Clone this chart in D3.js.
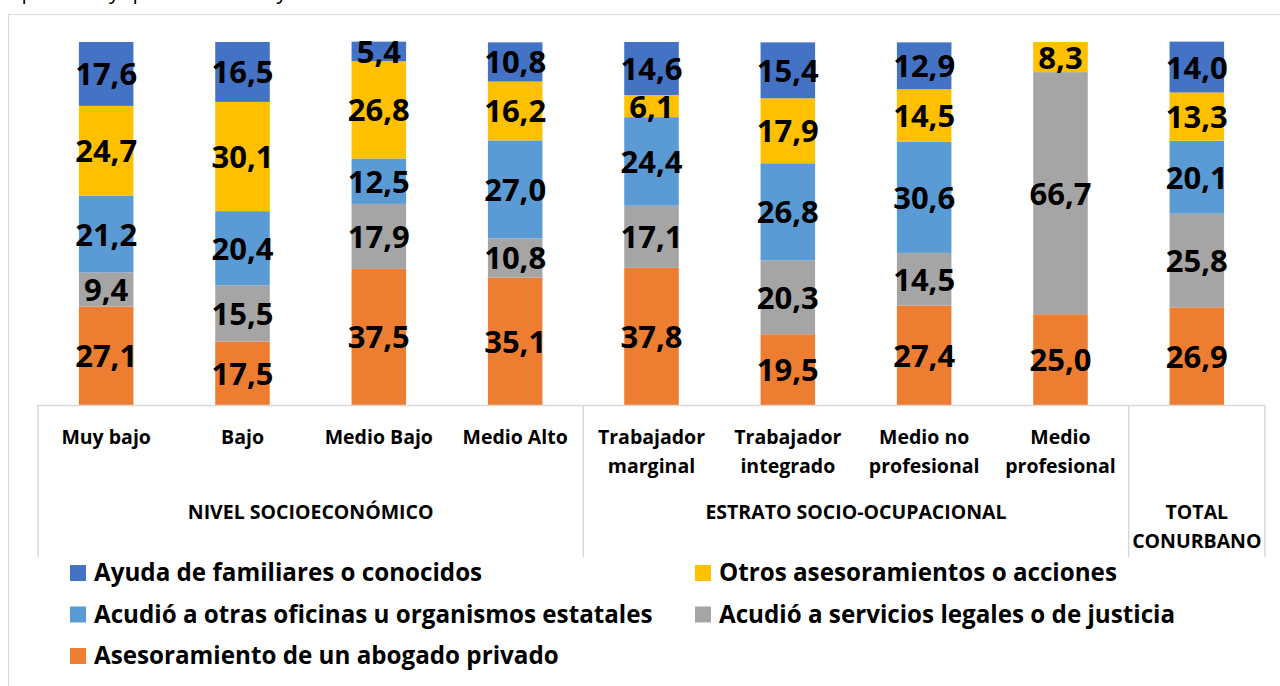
<!DOCTYPE html>
<html>
<head>
<meta charset="utf-8">
<script src="https://cdn.jsdelivr.net/npm/d3@7"></script>
<style>
  body { margin: 0; background: #fff; }
  svg { display: block; font-family: "Open Sans", Lato, sans-serif; }
  .val { font-weight: 700; font-size: 31px; fill: #000; }
  .cat { font-weight: 700; font-size: 19.5px; fill: #000; }
  .leg { font-weight: 700; font-size: 24.2px; fill: #000; }
</style>
</head>
<body>
<div class="chart"></div>
<script>
let categories = ["Muy bajo", "Bajo", "Medio Bajo", "Medio Alto", "Trabajador marginal",
  "Trabajador integrado", "Medio no profesional", "Medio profesional", "TOTAL"];
let catLines = [["Muy bajo"], ["Bajo"], ["Medio Bajo"], ["Medio Alto"], ["Trabajador", "marginal"],
  ["Trabajador", "integrado"], ["Medio no", "profesional"], ["Medio", "profesional"], []];
let groups = ["NIVEL SOCIOECONÓMICO", "ESTRATO SOCIO-OCUPACIONAL", "TOTAL CONURBANO"];
let groupSpans = [[0, 3], [4, 7], [8, 8]];

// stack order from bottom to top
let seriesNames = [
  "Asesoramiento de un abogado privado",
  "Acudió a servicios legales o de justicia",
  "Acudió a otras oficinas u organismos estatales",
  "Otros asesoramientos o acciones",
  "Ayuda de familiares o conocidos"
];
let abogado   = [27.1, 17.5, 37.5, 35.1, 37.8, 19.5, 27.4, 25.0, 26.9];
let legales   = [9.4, 15.5, 17.9, 10.8, 17.1, 20.3, 14.5, 66.7, 25.8];
let oficinas  = [21.2, 20.4, 12.5, 27.0, 24.4, 26.8, 30.6, 0, 20.1];
let otros     = [24.7, 30.1, 26.8, 16.2, 6.1, 17.9, 14.5, 8.3, 13.3];
let familia   = [17.6, 16.5, 5.4, 10.8, 14.6, 15.4, 12.9, 0, 14.0];
let colors = ["#ED7D31", "#A5A5A5", "#5B9BD5", "#FFC000", "#4472C4"];

let width = 1280;
let height = 686;

let svg = d3.select(".chart")
  .append("svg")
  .attr("width", width)
  .attr("height", height);

// cut-off caption above the chart
svg.append("text")
  .attr("x", 330)
  .attr("y", -1)
  .attr("text-anchor", "end")
  .style("font-size", "21px")
  .text("públicos y que buscaron ayuda.");

// chart frame
svg.append("rect")
  .attr("x", 8.5)
  .attr("y", 14.5)
  .attr("width", 1300)
  .attr("height", 700)
  .attr("fill", "none")
  .attr("stroke", "#d9d9d9");

let x = d3.scaleBand()
  .domain(categories)
  .range([38, 1265])
  .paddingInner(0.6)
  .paddingOuter(0.3);

let y = d3.scaleLinear()
  .domain([0, 100])
  .range([405, 42]);

let table = categories.map(function(c, i) {
  return { cat: c, s0: abogado[i], s1: legales[i], s2: oficinas[i], s3: otros[i], s4: familia[i] };
});
let stack = d3.stack().keys(["s0", "s1", "s2", "s3", "s4"]);
let layers = stack(table);

let layer = svg.selectAll(".layer")
  .data(layers)
  .enter()
  .append("g")
  .attr("class", "layer")
  .attr("fill", function(d, i) { return colors[i]; });

layer.selectAll("rect")
  .data(function(d) { return d.filter(function(p) { return p[1] - p[0] > 0; }); })
  .enter()
  .append("rect")
  .attr("x", function(d) { return x(d.data.cat); })
  .attr("width", x.bandwidth())
  .attr("y", function(d) { return y(d[1]); })
  .attr("height", function(d) { return y(d[0]) - y(d[1]); });

// value labels
layers.forEach(function(l) {
  svg.append("g")
    .selectAll("text")
    .data(l.filter(function(d) { return d[1] - d[0] > 0; }))
    .enter()
    .append("text")
    .attr("class", "val")
    .attr("text-anchor", "middle")
    .attr("x", function(d) { return x(d.data.cat) + x.bandwidth() / 2; })
    .attr("y", function(d) { return (y(d[0]) + y(d[1])) / 2 + 11.5; })
    .text(function(d) { return d3.format(".1f")(d[1] - d[0]).replace(".", ","); });
});

// category axis with group separators
let axisG = svg.append("g").attr("stroke", "#d9d9d9").attr("stroke-width", 1.5);
axisG.append("line")
  .attr("x1", x.range()[0]).attr("x2", x.range()[1])
  .attr("y1", 405.5).attr("y2", 405.5);

let sepX = [x.range()[0]].concat(groupSpans.map(function(s) {
  return x(categories[s[1]]) + x.bandwidth() / 2 + x.step() / 2;
}));
axisG.selectAll(".sep")
  .data(sepX)
  .enter()
  .append("line")
  .attr("x1", function(d) { return d; })
  .attr("x2", function(d) { return d; })
  .attr("y1", 405)
  .attr("y2", 557);

svg.append("g")
  .selectAll("text")
  .data(categories)
  .enter()
  .append("text")
  .attr("class", "cat")
  .attr("text-anchor", "middle")
  .attr("x", function(d) { return x(d) + x.bandwidth() / 2; })
  .attr("y", 444)
  .each(function(d, i) {
    let t = d3.select(this);
    catLines[i].forEach(function(line, j) {
      t.append("tspan")
        .attr("x", x(d) + x.bandwidth() / 2)
        .attr("dy", j == 0 ? 0 : 29)
        .text(line);
    });
  });

// group labels
svg.append("g")
  .selectAll("text")
  .data(groups)
  .enter()
  .append("text")
  .attr("class", "cat")
  .attr("text-anchor", "middle")
  .attr("y", 519)
  .each(function(d, i) {
    let cx = (sepX[i] + sepX[i + 1]) / 2;
    let t = d3.select(this);
    let words = i == 2 ? ["TOTAL", "CONURBANO"] : [d];
    words.forEach(function(w, j) {
      t.append("tspan").attr("x", cx).attr("dy", j == 0 ? 0 : 29).text(w);
    });
  });

// legend
let legendOrder = [4, 3, 2, 1, 0];
let legend = svg.append("g")
  .selectAll("g")
  .data(legendOrder)
  .enter()
  .append("g")
  .attr("transform", function(d, i) {
    return "translate(" + (i % 2 == 0 ? 70 : 695) + "," + (565 + Math.floor(i / 2) * 41.5) + ")";
  });
legend.append("rect")
  .attr("width", 16)
  .attr("height", 16)
  .attr("fill", function(d) { return colors[d]; });
legend.append("text")
  .attr("class", "leg")
  .attr("x", 24)
  .attr("y", 16)
  .text(function(d) { return seriesNames[d]; });
</script>
</body>
</html>
